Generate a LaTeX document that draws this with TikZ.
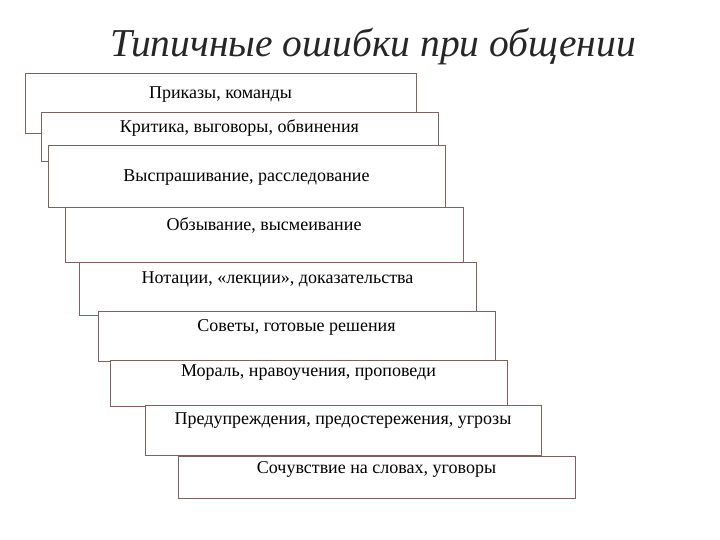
\documentclass[tikz,border=0pt]{standalone}
\usepackage{fontspec}
\setmainfont{Liberation Serif}
\definecolor{boxline}{rgb}{0.5,0.38,0.38}
\tikzset{
  stairbox/.style={draw=boxline,fill=white,line width=0.9pt},
  boxlabel/.style={font=\fontsize{18}{20}\selectfont,inner sep=0pt},
}
\begin{document}
\begin{tikzpicture}[x=1pt,y=-1pt]
	    \useasboundingbox (0,0) rectangle (720,540);
	    % Title
	    \node[font=\fontsize{39.5}{42}\selectfont\itshape,text=black!85] (title) at (373,47) {Типичные ошибки при общении};

	    % Draw the staircase of boxes
	    \foreach \i/\xa/\ya/\xb/\yb/\ty/\txt in {
	        1/25/73/416/133/95/{Приказы, команды},
	        2/41/112/438/161/128/{Критика, выговоры, обвинения},
	        3/48/145/445/207/178/{Выспрашивание, расследование},
	        4/65/207/463/262/225/{Обзывание, высмеивание},
	        5/79/262/476/315/279/{Нотации, «лекции», доказательства},
	        6/98/311/495/361/327/{Советы, готовые решения},
	        7/110/360/507/406/373/{Мораль, нравоучения, проповеди},
	        8/145/405/541/455/421/{Предупреждения, предостережения, угрозы},
	        9/178/456/575/498/469/{Сочувствие на словах, уговоры}}{
	        \draw[stairbox] (\xa,\ya) rectangle (\xb,\yb);
	        \node[boxlabel] (step\i) at ({(\xa+\xb)/2},\ty) {\txt};
	    }
\end{tikzpicture}
\end{document}
